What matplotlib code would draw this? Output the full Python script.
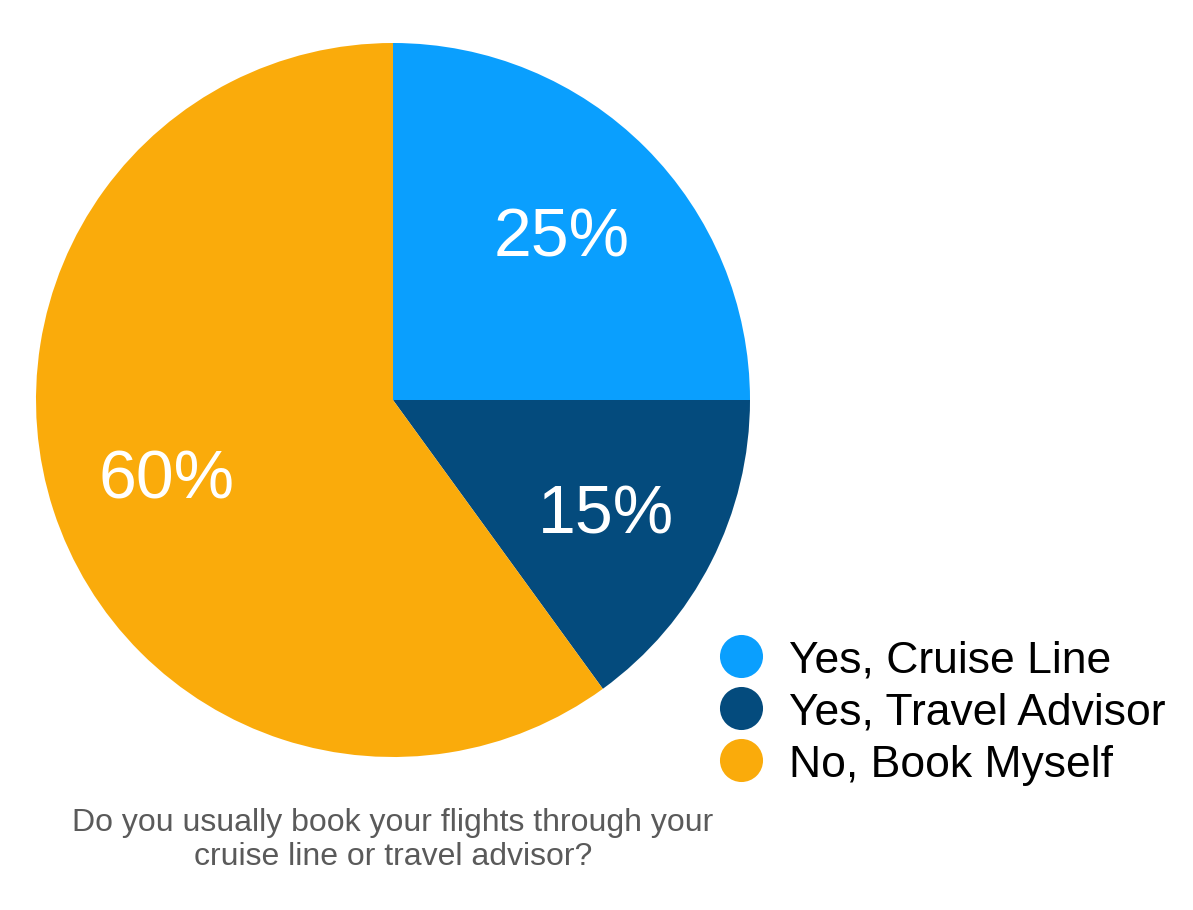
import matplotlib
matplotlib.use("Agg")
import matplotlib.pyplot as plt

labels = ["Yes, Cruise Line", "Yes, Travel Advisor", "No, Book Myself"]
values = [25, 15, 60]
colors = ["#0A9FFE", "#044B7D", "#FAAB0B"]
caption_lines = ["Do you usually book your flights through your",
                 "cruise line or travel advisor?"]

plt.rcParams['font.family'] = ['Liberation Sans', 'DejaVu Sans']

W, H = 1193, 910
fig = plt.figure(figsize=(W / 100, H / 100), dpi=100)
fig.patch.set_facecolor("white")

cx, cy, r = 393, 400, 357
ax = fig.add_axes([(cx - r) / W, (H - cy - r) / H, 2 * r / W, 2 * r / H])
wedges, texts, autotexts = ax.pie(values, colors=colors, startangle=90, counterclock=False,
                                  autopct=lambda p: f"{p:.0f}%", pctdistance=0.668,
                                  wedgeprops=dict(linewidth=0),
                                  textprops=dict(color="white", fontsize=49))
for t in autotexts:
    t.set_va("center_baseline")
ax.set_xlim(-1, 1)
ax.set_ylim(-1, 1)
ax.set_aspect("equal")
ax.axis("off")

# overlay in pixel coordinates for legend and caption
ov = fig.add_axes([0, 0, 1, 1])
ov.set_xlim(0, W)
ov.set_ylim(H, 0)
ov.axis("off")
ov.patch.set_alpha(0)

for i, (lab, col) in enumerate(zip(labels, colors)):
    y = 656 + 52 * i
    ov.scatter([741], [y], s=(31) ** 2, color=col, linewidths=0)
    ov.text(789, y + 17, lab, fontsize=32, color="black", ha="left", va="baseline")

for j, line in enumerate(caption_lines):
    ov.text(393, 831 + 34 * j, line, fontsize=23, color="#5A5A5A", ha="center", va="baseline")

fig.savefig("out.png", dpi=100)
